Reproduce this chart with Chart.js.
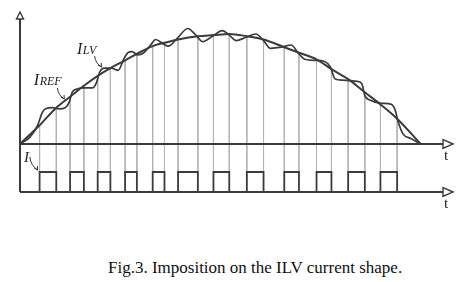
<!DOCTYPE html>
<html>
<head>
<meta charset="utf-8">
<script src="https://cdn.jsdelivr.net/npm/chart.js@4"></script>
<style>
  body { margin: 0; background: #fff; width: 459px; height: 282px; overflow: hidden; position: relative; }
  #wrap { position: absolute; left: 0; top: 0; width: 459px; height: 215px; }
  #caption { position: absolute; left: 108px; top: 259px; font-family: "Liberation Serif", "Times New Roman", serif;
    font-size: 17px; line-height: 17px; color: #111; white-space: nowrap; }
</style>
</head>
<body>
<div id="wrap"><canvas id="c"></canvas></div>
<div id="caption">Fig.3. Imposition on the ILV current shape.</div>
<script>
// angle of the half wave (deg) and current in % of the peak
const refAngle = [0, 8.8, 16.3, 22.5, 28.7, 34.9, 40.6, 47.2, 52.5, 59.6, 64.9, 71.0, 79.9, 86.9, 94.0,
  101.9, 109.4, 118.7, 125.3, 133.2, 139.9, 147.4, 154.9, 161.9, 169.4, 180];
const refCurrent = [0, 17, 33, 43, 53, 62, 69, 76, 82, 89, 92, 95, 98, 99, 100,
  98, 95, 88, 83, 77, 68, 59, 47, 36, 23, 0];

const lvAngle = [0, 4.4, 7.9, 10.1, 11.5, 14.6, 17.6, 20.3, 22.1, 23.4, 25.6, 29.1, 32.6, 34.4, 35.7,
  37.9, 41.0, 44.1, 46.8, 48.5, 50.3, 52.9, 55.6, 58.7, 60.9, 64.4, 66.6, 70.6, 75.4, 79.0,
  82.1, 86.5, 90.9, 94.0, 97.1, 101.5, 105.9, 109.4, 112.5, 117.4, 121.8, 124.9, 127.9, 132.8, 136.8,
  139.4, 141.6, 144.7, 151.3, 153.5, 154.9, 157.1, 162.4, 166.8, 168.5, 169.9, 172.1, 175.6, 180];
const lvCurrent = [0, 6, 17, 29, 32, 33, 32, 33, 38, 47, 50, 51, 51, 56, 65,
  69, 69, 67, 78, 83, 84, 81, 83, 90, 95, 91, 89, 96, 105, 99,
  93, 98, 103, 99, 94, 97, 100, 94, 87, 88, 90, 83, 77, 76, 75,
  70, 59, 58, 57, 55, 44, 40, 37, 36, 31, 20, 9, 5, 0];

// switching pulses (on / off angle)
const pulseOn  = [8.8, 22.5, 34.9, 47.2, 59.6, 71.0, 86.9, 101.9, 118.7, 133.2, 147.4, 161.9];
const pulseOff = [16.3, 28.7, 40.6, 52.5, 64.9, 79.9, 94.0, 109.4, 125.3, 139.9, 154.9, 169.4];

const ink = "#3b3b3b";

// build points for the library
const refPts = refAngle.map((a, i) => ({ x: a, y: refCurrent[i] }));
const lvPts = lvAngle.map((a, i) => ({ x: a, y: lvCurrent[i] }));

const pulsePts = [];
pulseOn.forEach((a, i) => {
  pulsePts.push({ x: a, y: 0 }, { x: a, y: 1 }, { x: pulseOff[i], y: 1 }, { x: pulseOff[i], y: 0 });
});

// thin guide lines at every switching instant
const guideUp = [];
const guideDown = [];
refAngle.forEach((a, i) => {
  if (i === 0 || i === refAngle.length - 1) return;
  guideUp.push({ x: a, y: refCurrent[i] }, { x: a, y: 0 }, { x: a, y: null });
  guideDown.push({ x: a, y: 2.4 }, { x: a, y: 1 }, { x: a, y: null });
});

// labels and their little pointers
function drawLabel(ctx, px, py, main, sub, big, small) {
  ctx.font = "italic " + big + "px 'Liberation Serif'";
  ctx.fillText(main, px, py);
  const w = ctx.measureText(main).width;
  if (sub) {
    ctx.font = "italic " + small + "px 'Liberation Serif'";
    ctx.fillText(sub, px + w + 0.5, py);
  }
}

function pointer(ctx, x1, y1, x2, y2) {
  ctx.beginPath();
  ctx.moveTo(x1, y1);
  ctx.quadraticCurveTo(x1 + 1, (y1 + y2) / 2 + 2, x2, y2);
  ctx.stroke();
  const ang = Math.atan2(y2 - y1, x2 - x1);
  ctx.beginPath();
  ctx.moveTo(x2 - 4 * Math.cos(ang - 0.5), y2 - 4 * Math.sin(ang - 0.5));
  ctx.lineTo(x2, y2);
  ctx.lineTo(x2 - 4 * Math.cos(ang + 0.5), y2 - 4 * Math.sin(ang + 0.5));
  ctx.stroke();
}

const decor = {
  id: "decor",
  afterDatasetsDraw(chart) {
    const { ctx, chartArea, scales } = chart;
    const x = scales.x, y = scales.y, y2 = scales.y2;
    const x0 = x.getPixelForValue(0);
    const top = chartArea.top;
    const base1 = y.getPixelForValue(0);
    const base2 = y2.getPixelForValue(0);
    const tip = chartArea.right;

    ctx.save();
    ctx.strokeStyle = ink;
    ctx.lineWidth = 2;
    ctx.beginPath();
    ctx.moveTo(x0, top + 7); ctx.lineTo(x0, base2);
    ctx.moveTo(x0, base1); ctx.lineTo(tip - 10, base1);
    ctx.moveTo(x0, base2); ctx.lineTo(tip - 10, base2);
    ctx.stroke();

    // hollow arrow heads
    ctx.lineWidth = 1.4;
    ctx.fillStyle = "#fff";
    ctx.beginPath();
    ctx.moveTo(x0, top); ctx.lineTo(x0 - 3.5, top + 7); ctx.lineTo(x0 + 3.5, top + 7); ctx.closePath();
    ctx.fill(); ctx.stroke();
    [base1, base2].forEach(b => {
      ctx.beginPath();
      ctx.moveTo(tip, b); ctx.lineTo(tip - 10, b - 4.5); ctx.lineTo(tip - 10, b + 4.5); ctx.closePath();
      ctx.fill(); ctx.stroke();
    });

    ctx.fillStyle = "#222";
    ctx.font = "15px 'Liberation Serif'";
    ctx.textAlign = "center";
    ctx.fillText("t", tip - 7, base1 + 16);
    ctx.fillText("t", tip - 7, base2 + 16);
    ctx.textAlign = "left";

    drawLabel(ctx, x.getPixelForValue(25.6), y.getPixelForValue(81.8), "I", "LV", 16, 12);
    drawLabel(ctx, x.getPixelForValue(6.2), y.getPixelForValue(53.6), "I", "REF", 16, 12);
    drawLabel(ctx, x.getPixelForValue(1.8), y2.getPixelForValue(1.5), "I", "", 15, 12);

    ctx.strokeStyle = "#333";
    ctx.lineWidth = 1;
    pointer(ctx, x.getPixelForValue(33.5), y.getPixelForValue(80), x.getPixelForValue(36.6), y.getPixelForValue(70));
    pointer(ctx, x.getPixelForValue(16.8), y.getPixelForValue(50.9), x.getPixelForValue(19.9), y.getPixelForValue(40.9));
    pointer(ctx, x.getPixelForValue(4.4), y2.getPixelForValue(1.75), x.getPixelForValue(7.9), y2.getPixelForValue(1.1));
    ctx.restore();
  }
};

const hidden = { ticks: { display: false }, grid: { display: false }, border: { display: false } };

new Chart(document.getElementById("c"), {
  type: "line",
  data: {
    datasets: [
      { label: "ILV", data: lvPts, yAxisID: "y", borderColor: ink, borderWidth: 1.7,
        cubicInterpolationMode: "monotone", pointRadius: 0, fill: false },
      { label: "IREF", data: refPts, yAxisID: "y", borderColor: ink, borderWidth: 2,
        cubicInterpolationMode: "monotone", pointRadius: 0, fill: false },
      { label: "I", data: pulsePts, yAxisID: "y2", borderColor: ink, borderWidth: 1.8,
        tension: 0, pointRadius: 0, fill: false },
      { label: "guides", data: guideUp, yAxisID: "y", borderColor: "#b4b4b4", borderWidth: 1,
        tension: 0, pointRadius: 0, spanGaps: false, fill: false },
      { label: "guides2", data: guideDown, yAxisID: "y2", borderColor: "#b4b4b4", borderWidth: 1,
        tension: 0, pointRadius: 0, spanGaps: false, fill: false }
    ]
  },
  options: {
    responsive: true,
    maintainAspectRatio: false,
    animation: false,
    layout: { padding: { left: 12, top: 12, right: 6, bottom: 23 } },
    plugins: { legend: { display: false }, tooltip: { enabled: false } },
    scales: {
      x: Object.assign({ type: "linear", min: 0, max: 194.5, display: false }, hidden),
      y2: Object.assign({ type: "linear", min: 0, max: 2.4, stack: "panels", stackWeight: 48, position: "left" }, hidden),
      y: Object.assign({ type: "linear", min: 0, max: 120, stack: "panels", stackWeight: 132, position: "left" }, hidden)
    }
  },
  plugins: [decor]
});
</script>
</body>
</html>
